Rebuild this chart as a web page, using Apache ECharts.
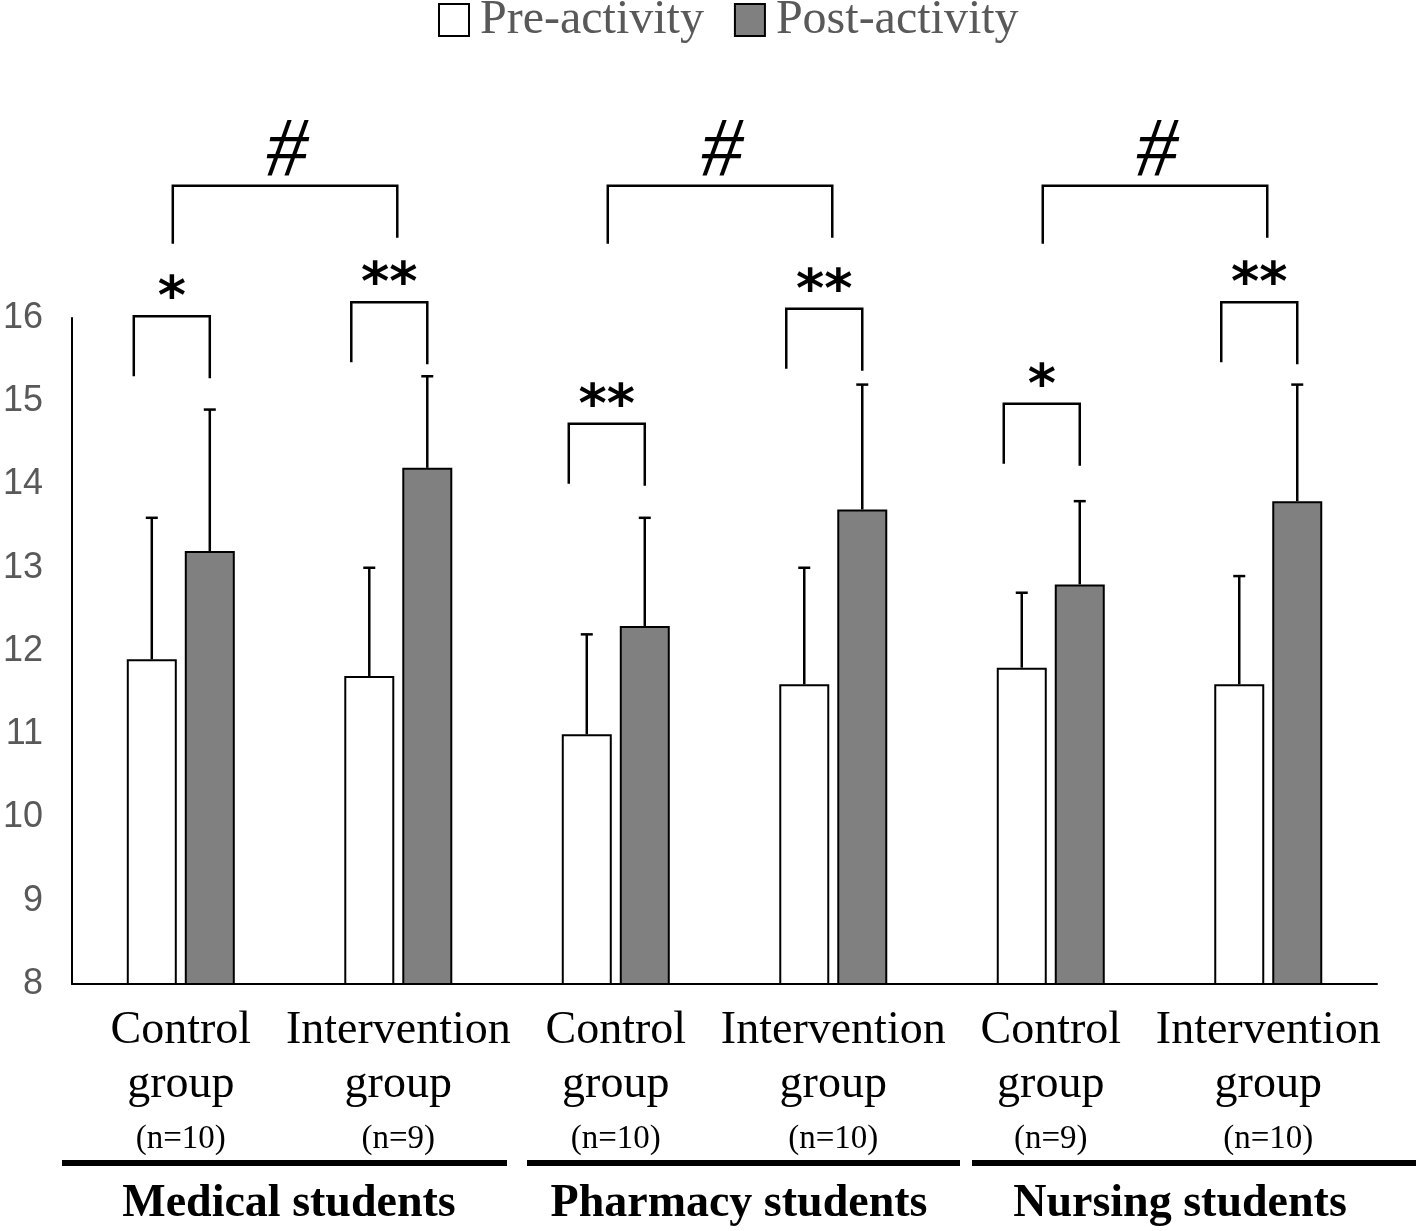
<!DOCTYPE html>
<html><head><meta charset="utf-8">
<script src="https://cdn.jsdelivr.net/npm/echarts@6/dist/echarts.min.js"></script>
<style>html,body{margin:0;padding:0;background:#fff}#c{width:1418px;height:1231px}</style>
</head><body><div id="c"></div>
<script>
// ---------------- data ----------------
const categories = ['Control group', 'Intervention group', 'Control group', 'Intervention group', 'Control group', 'Intervention group'];
const sampleSizes = ['(n=10)', '(n=9)', '(n=10)', '(n=10)', '(n=9)', '(n=10)'];
const groupNames = ['Medical students', 'Pharmacy students', 'Nursing students'];
const seriesNames = ['Pre-activity', 'Post-activity'];
const preMean = [11.9, 11.7, 11.0, 11.6, 11.8, 11.6];
const preSD = [1.7, 1.3, 1.2, 1.4, 0.9, 1.3];
const postMean = [13.2, 14.2, 12.3, 13.7, 12.8, 13.8];
const postSD = [1.7, 1.1, 1.3, 1.5, 1.0, 1.4];
const pairSig = ['*', '**', '**', '**', '*', '**'];
const pairBracketLevel = [16.02, 16.19, 14.73, 16.11, 14.97, 16.19];
const groupSig = ['#', '#', '#'];
const groupBracketLevel = [17.59, 17.59, 17.59];
const yMin = 8, yMax = 16, yStep = 1;

// ---------------- style ----------------
const BAR_W = 50, BAR_GAP = 8, HALF_PITCH = (BAR_W + BAR_GAP) / 2, CAP = 6;
const SERIF = '"Liberation Serif", "Times New Roman", serif';
const SANS = '"Liberation Sans", Arial, sans-serif';

function errorSeries(means, sds, side) {
  return {
    type: 'custom', coordinateSystem: 'cartesian2d', clip: false, z: 5, silent: true,
    data: means.map((m, i) => [i, m, m + sds[i]]),
    encode: { x: 0, y: [1, 2] },
    renderItem(params, api) {
      const b = api.coord([api.value(0), api.value(1)]);
      const t = api.coord([api.value(0), api.value(2)]);
      const x = b[0] + side * HALF_PITCH;
      const st = { stroke: '#000', lineWidth: 2.5 };
      return { type: 'group', children: [
        { type: 'line', shape: { x1: x, y1: b[1], x2: x, y2: t[1] }, style: st },
        { type: 'line', shape: { x1: x - CAP, y1: t[1], x2: x + CAP, y2: t[1] }, style: st }
      ]};
    }
  };
}

const pairBracketSeries = {
  type: 'custom', coordinateSystem: 'cartesian2d', clip: false, z: 6, silent: true,
  data: pairBracketLevel.map((lv, i) => [i, lv]),
  encode: { x: 0, y: 1 },
  renderItem(params, api) {
    const i = params.dataIndex;
    const c = api.coord([api.value(0), api.value(1)]);
    const xl = c[0] - HALF_PITCH - 18, xr = c[0] + HALF_PITCH, y = c[1];
    return { type: 'group', children: [
      { type: 'polyline', shape: { points: [[xl, y + 60], [xl, y], [xr, y], [xr, y + 62]] },
        style: { stroke: '#000', lineWidth: 2.5, fill: null } },
      { type: 'text', x: (xl + xr) / 2, y: y - 16,
        style: { text: pairSig[i], fontSize: 54, fontWeight: 'bold', fontFamily: '"DejaVu Sans", sans-serif', fill: '#000',
                 align: 'center', verticalAlign: 'middle' } }
    ]};
  }
};

const groupBracketSeries = {
  type: 'custom', coordinateSystem: 'cartesian2d', clip: false, z: 6, silent: true,
  data: groupBracketLevel.map((lv, g) => [2 * g, lv, 2 * g + 1]),
  encode: { x: 0, y: 1 },
  renderItem(params, api) {
    const g = params.dataIndex;
    const c1 = api.coord([api.value(0), api.value(1)]);
    const c2 = api.coord([api.value(2), api.value(1)]);
    const xl = c1[0] - 8, xr = c2[0] - 1, y = c1[1];
    return { type: 'group', children: [
      { type: 'polyline', shape: { points: [[xl, y + 58], [xl, y], [xr, y], [xr, y + 52]] },
        style: { stroke: '#000', lineWidth: 2.5, fill: null } },
      { type: 'text', x: (xl + xr) / 2 + 2, y: y - 32,
        style: { text: groupSig[g], fontSize: 84, fontStyle: 'italic', fontFamily: SERIF, fill: '#000',
                 align: 'center', verticalAlign: 'middle' } }
    ]};
  }
};

const chart = echarts.init(document.getElementById('c'), null, { renderer: 'canvas' });
chart.setOption({
  animation: false,
  backgroundColor: '#fff',
  legend: {
    data: seriesNames, left: 433, top: -9, icon: 'rect', itemWidth: 30, itemHeight: 32, itemGap: 30,
    textStyle: { fontFamily: SERIF, fontSize: 48, color: '#595959', lineHeight: 40, padding: [0, 0, 0, 6] }
  },
  grid: { left: 70, right: 41, top: 318, bottom: 247, containLabel: false },
  xAxis: {
    type: 'category', data: categories,
    axisLine: { lineStyle: { color: '#000', width: 2 } },
    axisTick: { show: false },
    axisLabel: {
      interval: 0, margin: 20, color: '#000',
      formatter: (v, i) => {
        const w = v.split(' ');
        return '{a|' + w[0] + '}\n{a|' + w[1] + '}\n{n|' + sampleSizes[i] + '}';
      },
      rich: {
        a: { fontFamily: SERIF, fontSize: 46, lineHeight: 54, color: '#000' },
        n: { fontFamily: SERIF, fontSize: 33, lineHeight: 54, color: '#000' }
      }
    }
  },
  yAxis: {
    type: 'value', min: yMin, max: yMax, interval: yStep,
    axisLine: { show: true, lineStyle: { color: '#000', width: 2 } },
    axisTick: { show: false },
    splitLine: { show: false },
    axisLabel: { fontFamily: SANS, fontSize: 36, color: '#595959', margin: 29 }
  },
  graphic: [
    { type: 'rect', shape: { x: 62, y: 1160, width: 445, height: 6 }, style: { fill: '#000' } },
    { type: 'rect', shape: { x: 527, y: 1160, width: 433, height: 6 }, style: { fill: '#000' } },
    { type: 'rect', shape: { x: 972, y: 1160, width: 444, height: 6 }, style: { fill: '#000' } },
    { type: 'text', x: 289, y: 1204, style: { text: groupNames[0], fontFamily: SERIF, fontWeight: 'bold', fontSize: 46, fill: '#000', align: 'center', verticalAlign: 'middle' } },
    { type: 'text', x: 739, y: 1204, style: { text: groupNames[1], fontFamily: SERIF, fontWeight: 'bold', fontSize: 46, fill: '#000', align: 'center', verticalAlign: 'middle' } },
    { type: 'text', x: 1180, y: 1204, style: { text: groupNames[2], fontFamily: SERIF, fontWeight: 'bold', fontSize: 46, fill: '#000', align: 'center', verticalAlign: 'middle' } }
  ],
  series: [
    { name: seriesNames[0], type: 'bar', data: preMean, barWidth: BAR_W, barGap: (BAR_GAP / BAR_W * 100) + '%',
      itemStyle: { color: '#ffffff', borderColor: '#000', borderWidth: 2 } },
    { name: seriesNames[1], type: 'bar', data: postMean, barWidth: BAR_W,
      itemStyle: { color: '#808080', borderColor: '#000', borderWidth: 2 } },
    errorSeries(preMean, preSD, -1),
    errorSeries(postMean, postSD, 1),
    pairBracketSeries,
    groupBracketSeries
  ]
});
</script>
</body></html>
